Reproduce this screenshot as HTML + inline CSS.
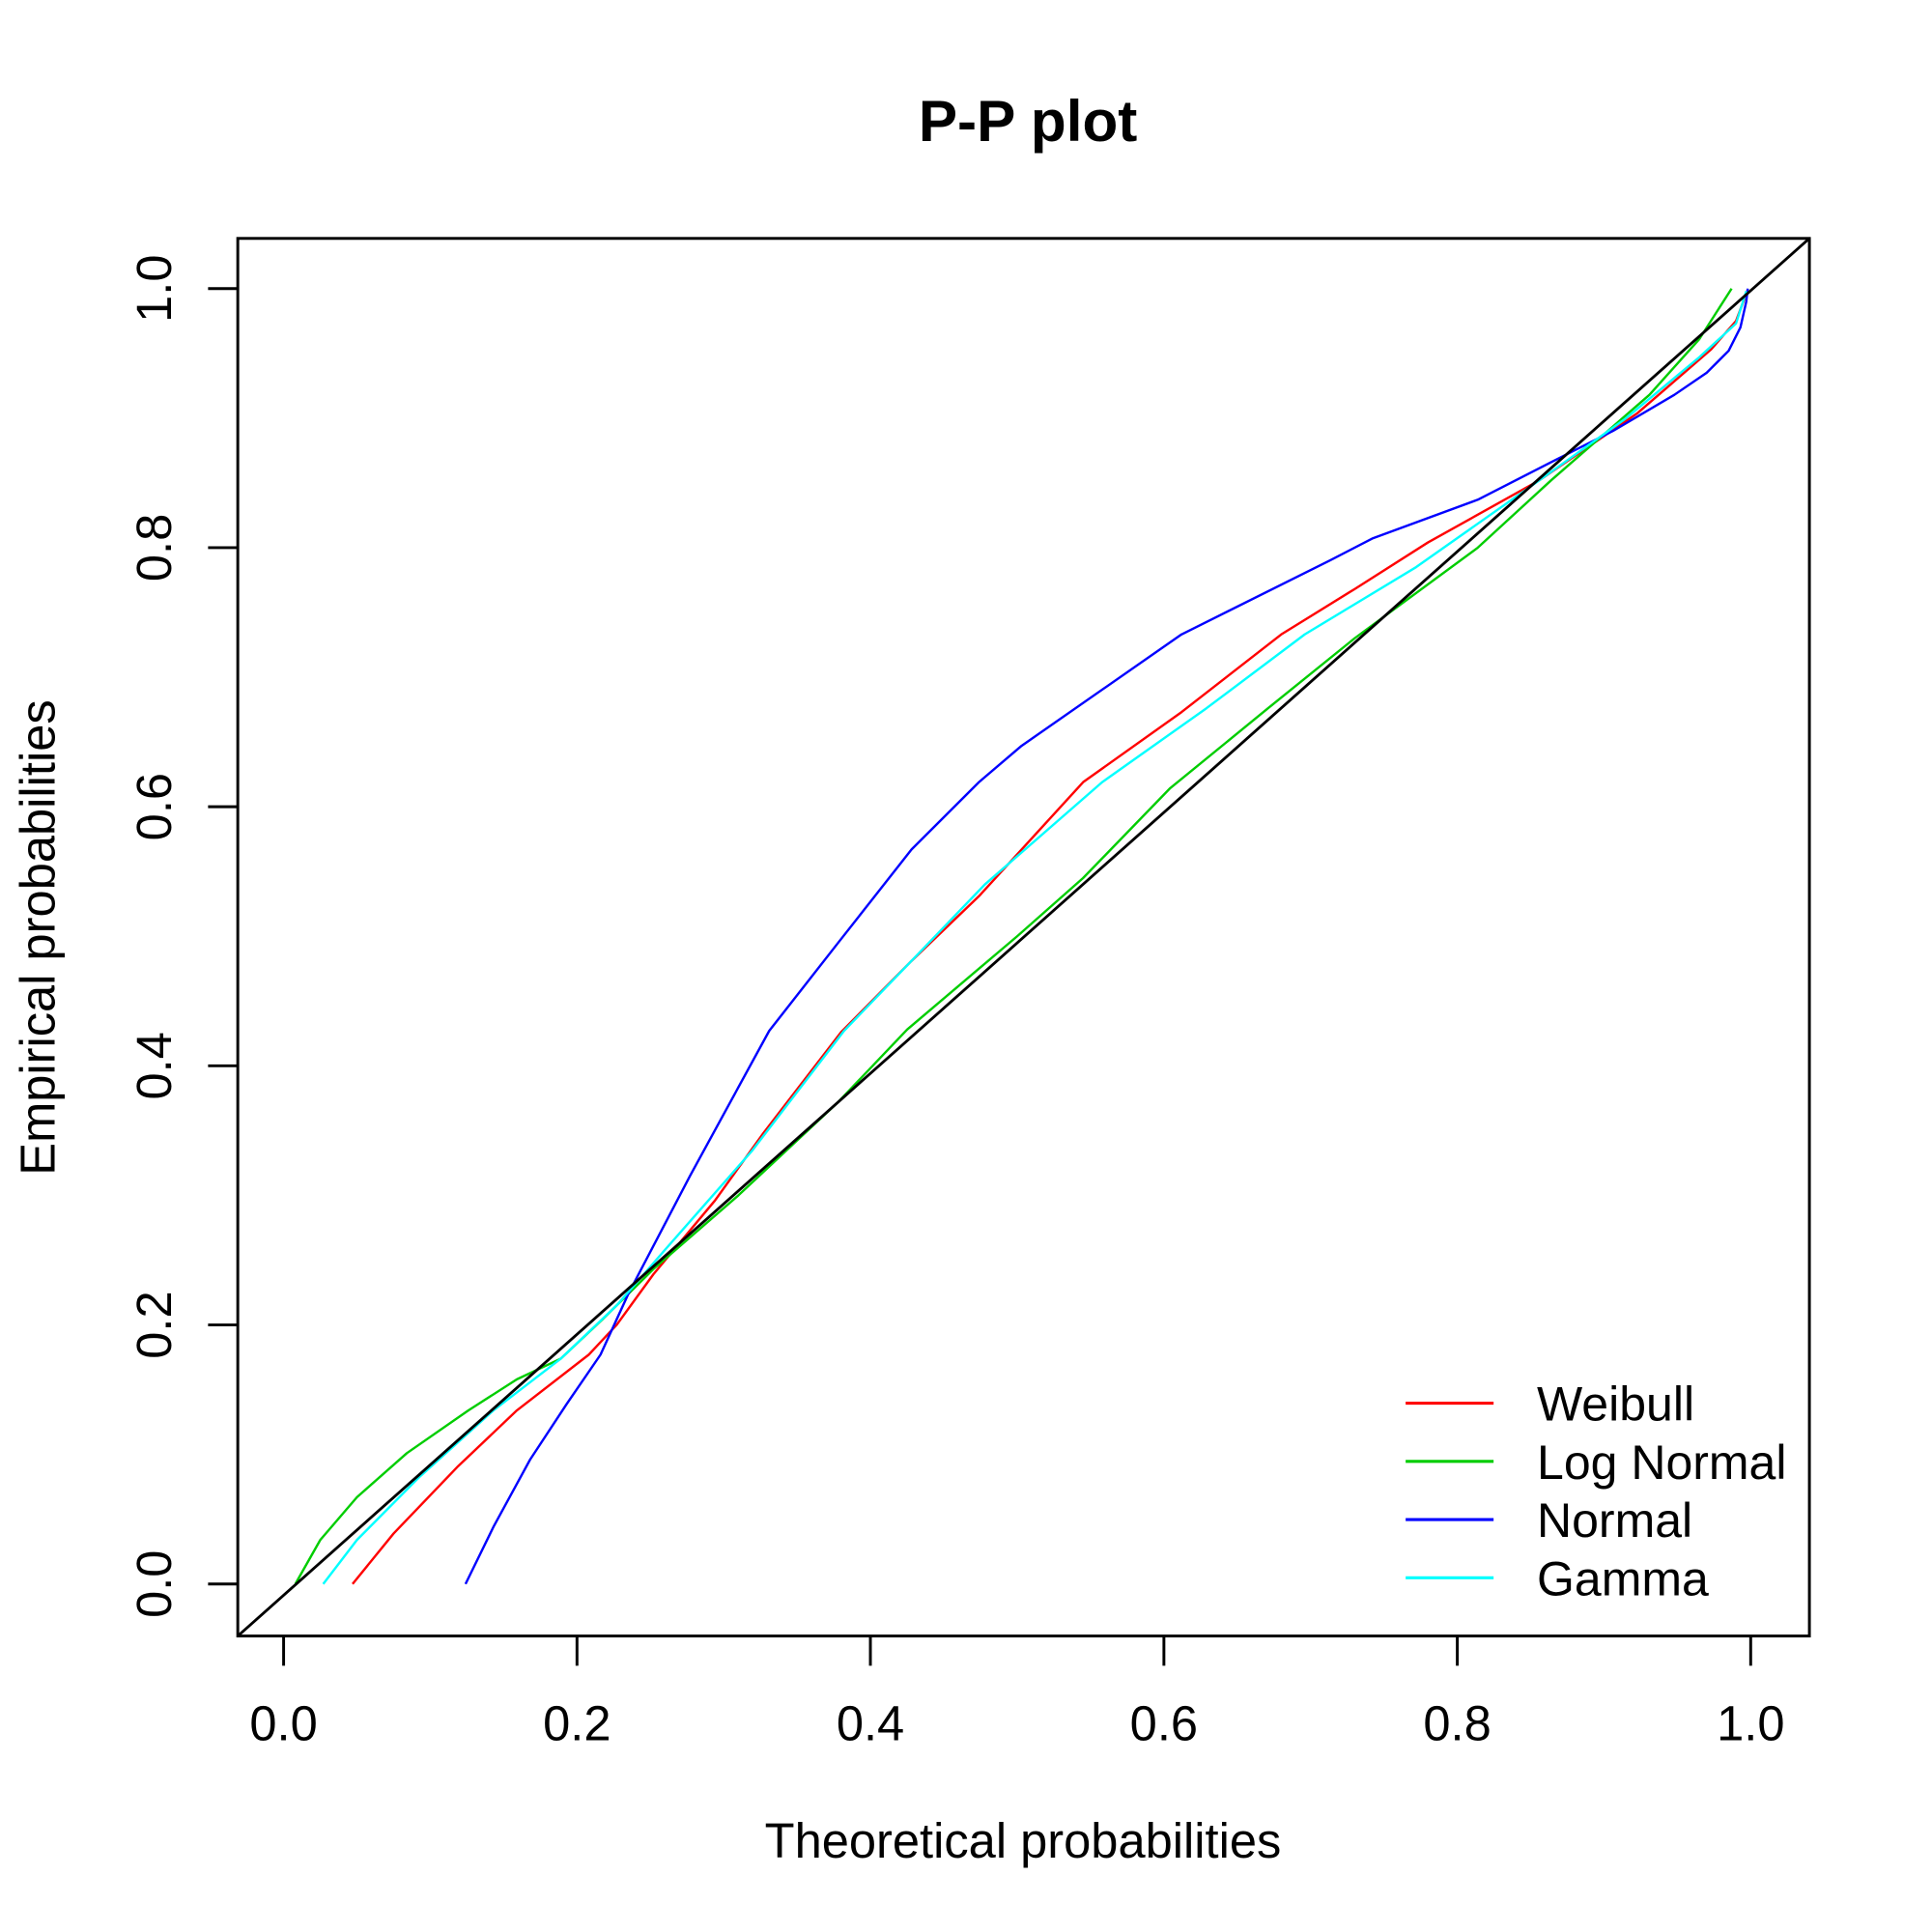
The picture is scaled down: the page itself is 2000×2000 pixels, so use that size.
<!DOCTYPE html>
<html><head><meta charset="utf-8"><style>
html,body{margin:0;padding:0;background:#fff;}
svg{display:block;}
text{font-family:"Liberation Sans",Arial,sans-serif;fill:#000;}
</style></head><body>
<svg width="2000" height="2000" viewBox="0 0 1560 1560" xmlns="http://www.w3.org/2000/svg">
<rect width="1560" height="1560" fill="#fff"/>
<text x="830" y="114" font-size="47" font-weight="bold" text-anchor="middle">P-P plot</text>
<g transform="translate(229,1279) scale(1184.6,-1046)" fill="none" stroke-width="2.4" stroke-linejoin="round">
<polyline vector-effect="non-scaling-stroke" stroke="#ff0000" points="0.047,0 0.075,0.039 0.119,0.091 0.159,0.134 0.208,0.177 0.227,0.2 0.252,0.239 0.294,0.296 0.327,0.348 0.380,0.426 0.428,0.481 0.474,0.531 0.545,0.619 0.612,0.673 0.680,0.733 0.730,0.768 0.780,0.804 0.856,0.852 0.923,0.904 0.973,0.953 0.990,0.975 0.998,0.999"/>
<polyline vector-effect="non-scaling-stroke" stroke="#00cd00" points="0.008,0 0.025,0.034 0.050,0.067 0.084,0.101 0.126,0.134 0.159,0.158 0.189,0.174 0.218,0.205 0.252,0.243 0.310,0.300 0.378,0.372 0.425,0.428 0.5,0.5 0.545,0.545 0.604,0.614 0.671,0.676 0.730,0.730 0.814,0.800 0.864,0.852 0.931,0.918 0.965,0.961 0.987,1.0"/>
<polyline vector-effect="non-scaling-stroke" stroke="#0000ff" points="0.124,0 0.143,0.044 0.168,0.096 0.193,0.139 0.216,0.177 0.235,0.224 0.277,0.315 0.331,0.427 0.378,0.495 0.428,0.567 0.474,0.619 0.503,0.647 0.612,0.733 0.713,0.790 0.742,0.807 0.814,0.837 0.864,0.866 0.906,0.890 0.948,0.918 0.970,0.935 0.985,0.952 0.993,0.97 0.997,0.99 0.998,1.0"/>
<polyline vector-effect="non-scaling-stroke" stroke="#00ffff" points="0.027,0 0.050,0.034 0.092,0.082 0.143,0.134 0.189,0.174 0.227,0.215 0.260,0.258 0.319,0.334 0.382,0.427 0.428,0.481 0.478,0.540 0.558,0.619 0.629,0.676 0.696,0.733 0.772,0.785 0.856,0.852 0.914,0.899 0.965,0.947 0.990,0.973 0.997,0.998"/>
</g>
<line x1="192" y1="1321" x2="1461" y2="192.5" stroke="#000" stroke-width="2.2"/>
<rect x="192" y="192.5" width="1269" height="1128.5" fill="none" stroke="#000" stroke-width="2.3"/>
<g stroke="#000" stroke-width="2.3">
<line x1="229" y1="1321" x2="229" y2="1345"/>
<line x1="465.9" y1="1321" x2="465.9" y2="1345"/>
<line x1="702.8" y1="1321" x2="702.8" y2="1345"/>
<line x1="939.8" y1="1321" x2="939.8" y2="1345"/>
<line x1="1176.7" y1="1321" x2="1176.7" y2="1345"/>
<line x1="1413.6" y1="1321" x2="1413.6" y2="1345"/>
<line x1="192" y1="1279" x2="168" y2="1279"/>
<line x1="192" y1="1069.8" x2="168" y2="1069.8"/>
<line x1="192" y1="860.6" x2="168" y2="860.6"/>
<line x1="192" y1="651.4" x2="168" y2="651.4"/>
<line x1="192" y1="442.2" x2="168" y2="442.2"/>
<line x1="192" y1="233" x2="168" y2="233"/>
</g>
<g font-size="39.5" text-anchor="middle">
<text x="229" y="1405">0.0</text>
<text x="465.9" y="1405">0.2</text>
<text x="702.8" y="1405">0.4</text>
<text x="939.8" y="1405">0.6</text>
<text x="1176.7" y="1405">0.8</text>
<text x="1413.6" y="1405">1.0</text>
<text transform="translate(138,1279) rotate(-90)">0.0</text>
<text transform="translate(138,1069.8) rotate(-90)">0.2</text>
<text transform="translate(138,860.6) rotate(-90)">0.4</text>
<text transform="translate(138,651.4) rotate(-90)">0.6</text>
<text transform="translate(138,442.2) rotate(-90)">0.8</text>
<text transform="translate(138,233) rotate(-90)">1.0</text>
<text x="826" y="1500">Theoretical probabilities</text>
<text transform="translate(44,757) rotate(-90)">Empirical probabilities</text>
</g>
<g stroke-width="2.4">
<line x1="1135" y1="1133" x2="1206" y2="1133" stroke="#ff0000"/>
<line x1="1135" y1="1180" x2="1206" y2="1180" stroke="#00cd00"/>
<line x1="1135" y1="1227" x2="1206" y2="1227" stroke="#0000ff"/>
<line x1="1135" y1="1274" x2="1206" y2="1274" stroke="#00ffff"/>
</g>
<g font-size="39">
<text x="1241" y="1147">Weibull</text>
<text x="1241" y="1194">Log Normal</text>
<text x="1241" y="1241">Normal</text>
<text x="1241" y="1288">Gamma</text>
</g>
</svg>
</body></html>
